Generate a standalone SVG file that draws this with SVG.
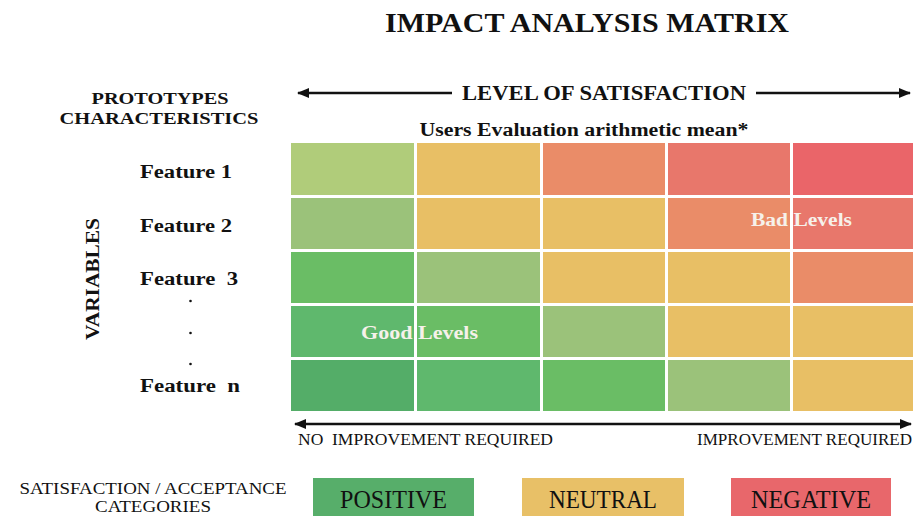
<svg xmlns="http://www.w3.org/2000/svg" width="918" height="516" viewBox="0 0 918 516">
<defs>
<marker id="ah" viewBox="0 0 10 10" refX="9" refY="5" markerWidth="5" markerHeight="5" orient="auto-start-reverse" markerUnits="strokeWidth">
<path d="M0,1 L10,5 L0,9 Z" fill="#111"/>
</marker>
</defs>
<style>
text{white-space:pre}
.b{font-family:"Liberation Serif","Times New Roman",serif;font-weight:bold;fill:#111}
.c{font-family:"Liberation Serif","Times New Roman",serif;fill:#111}
.w{font-family:"Liberation Serif","Times New Roman",serif;font-weight:bold;fill:#f6f1ea}
.ln{stroke:#111;stroke-width:2.5;fill:none}
.g1{fill:#b0cc7a}.g2{fill:#9bc27a}.g3{fill:#6abd65}.g4{fill:#5fb86d}.g5{fill:#54ad68}
.y{fill:#e8bf65}.o1{fill:#ea8c68}.o2{fill:#e8776b}.r{fill:#ea6569}
</style>
<rect width="918" height="516" fill="#fff"/>
<g id="title"><text class="b" x="587" y="32" font-size="27" text-anchor="middle" textLength="404" lengthAdjust="spacingAndGlyphs">IMPACT ANALYSIS MATRIX</text></g>
<g id="header-left"><text class="b" x="160" y="104" font-size="17" text-anchor="middle" textLength="137" lengthAdjust="spacingAndGlyphs">PROTOTYPES</text>
<text class="b" x="159" y="124" font-size="17" text-anchor="middle" textLength="199" lengthAdjust="spacingAndGlyphs">CHARACTERISTICS</text></g>
<g id="connectors">
<line class="ln" x1="298" y1="93" x2="452" y2="93" marker-start="url(#ah)"/>
<line class="ln" x1="756" y1="93" x2="910" y2="93" marker-end="url(#ah)"/>
<line class="ln" x1="295" y1="424" x2="911" y2="424" marker-start="url(#ah)" marker-end="url(#ah)"/>
</g>
<g id="level"><text class="b" x="604" y="100" font-size="20" text-anchor="middle" textLength="284" lengthAdjust="spacingAndGlyphs">LEVEL OF SATISFACTION</text></g>
<g id="users"><text class="b" x="584" y="136" font-size="18" text-anchor="middle" textLength="329" lengthAdjust="spacingAndGlyphs">Users Evaluation arithmetic mean*</text></g>
<g id="variables"><text class="b" x="0" y="0" font-size="19" text-anchor="middle" textLength="122" lengthAdjust="spacingAndGlyphs" transform="translate(99,279) rotate(-90)">VARIABLES</text></g>
<g id="features">
<text class="b" x="140" y="178" font-size="18" textLength="92" lengthAdjust="spacingAndGlyphs">Feature 1</text>
<text class="b" x="140" y="232" font-size="18" textLength="92" lengthAdjust="spacingAndGlyphs">Feature 2</text>
<text class="b" x="140" y="285" font-size="18" textLength="98" lengthAdjust="spacingAndGlyphs">Feature  3</text>
<circle cx="190.5" cy="301" r="1.3" fill="#111"/>
<circle cx="190.5" cy="333" r="1.3" fill="#111"/>
<circle cx="190.5" cy="364" r="1.3" fill="#111"/>
<text class="b" x="140" y="392" font-size="18" textLength="100" lengthAdjust="spacingAndGlyphs">Feature  n</text>
</g>
<g id="matrix">
<rect class="g1" x="291" y="143" width="123" height="52"/>
<rect class="y" x="417" y="143" width="123" height="52"/>
<rect class="o1" x="543" y="143" width="122" height="52"/>
<rect class="o2" x="668" y="143" width="122" height="52"/>
<rect class="r" x="793" y="143" width="120" height="52"/>
<rect class="g2" x="291" y="198" width="123" height="51"/>
<rect class="y" x="417" y="198" width="123" height="51"/>
<rect class="y" x="543" y="198" width="122" height="51"/>
<rect class="o1" x="668" y="198" width="122" height="51"/>
<rect class="o2" x="793" y="198" width="120" height="51"/>
<rect class="g3" x="291" y="252" width="123" height="51"/>
<rect class="g2" x="417" y="252" width="123" height="51"/>
<rect class="y" x="543" y="252" width="122" height="51"/>
<rect class="y" x="668" y="252" width="122" height="51"/>
<rect class="o1" x="793" y="252" width="120" height="51"/>
<rect class="g4" x="291" y="306" width="123" height="51"/>
<rect class="g3" x="417" y="306" width="123" height="51"/>
<rect class="g2" x="543" y="306" width="122" height="51"/>
<rect class="y" x="668" y="306" width="122" height="51"/>
<rect class="y" x="793" y="306" width="120" height="51"/>
<rect class="g5" x="291" y="360" width="123" height="51"/>
<rect class="g4" x="417" y="360" width="123" height="51"/>
<rect class="g3" x="543" y="360" width="122" height="51"/>
<rect class="g2" x="668" y="360" width="122" height="51"/>
<rect class="y" x="793" y="360" width="120" height="51"/>
</g>
<g id="good"><text class="w" x="361" y="339" font-size="18" textLength="117" lengthAdjust="spacingAndGlyphs">Good Levels</text></g>
<g id="bad"><text class="w" x="751" y="226" font-size="18" textLength="101" lengthAdjust="spacingAndGlyphs">Bad Levels</text></g>
<g id="bottom-labels">
<text class="c" x="298" y="445" font-size="17" textLength="255" lengthAdjust="spacingAndGlyphs">NO  IMPROVEMENT REQUIRED</text>
<text class="c" x="697" y="445" font-size="17" textLength="215" lengthAdjust="spacingAndGlyphs">IMPROVEMENT REQUIRED</text>
</g>
<g id="categories">
<text class="c" x="153" y="494" font-size="17.5" text-anchor="middle" textLength="267" lengthAdjust="spacingAndGlyphs">SATISFACTION / ACCEPTANCE</text>
<text class="c" x="153" y="512" font-size="17" text-anchor="middle" textLength="116" lengthAdjust="spacingAndGlyphs">CATEGORIES</text>
</g>
<g id="positive"><rect x="313" y="478" width="161" height="40" fill="#57ae6a"/><text class="c" x="393.5" y="508" font-size="26" text-anchor="middle" textLength="107" lengthAdjust="spacingAndGlyphs">POSITIVE</text></g>
<g id="neutral"><rect x="522" y="478" width="162" height="40" fill="#e8c067"/><text class="c" x="603" y="508" font-size="26" text-anchor="middle" textLength="108" lengthAdjust="spacingAndGlyphs">NEUTRAL</text></g>
<g id="negative"><rect x="731" y="478" width="160" height="40" fill="#e8676b"/><text class="c" x="811" y="508" font-size="26" text-anchor="middle" textLength="120" lengthAdjust="spacingAndGlyphs">NEGATIVE</text></g>
</svg>
